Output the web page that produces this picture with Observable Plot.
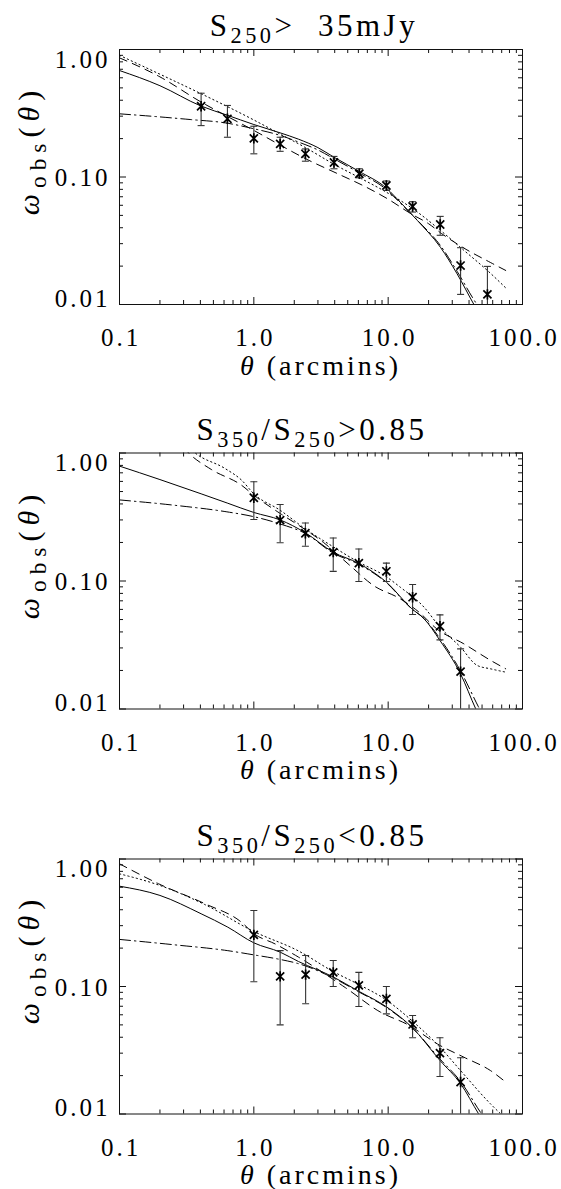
<!DOCTYPE html>
<html><head><meta charset="utf-8">
<script src="https://cdn.jsdelivr.net/npm/d3@7"></script>
<script src="https://cdn.jsdelivr.net/npm/@observablehq/plot@0.6"></script>
<style>
body{margin:0;background:#fff;}
#wrap{position:relative;width:561px;height:1189px;overflow:hidden;font-family:"Liberation Serif","Times New Roman",serif;color:#000;background:#fff}
#wrap svg{position:absolute;left:0}
#wrap svg text{font-family:"Liberation Serif","Times New Roman",serif}
.title{position:absolute;white-space:nowrap;transform:translate(-50%,-50%);font-size:31px;letter-spacing:3.5px;line-height:1}
.title sub{font-size:0.72em;vertical-align:-0.35em;line-height:0}
.xlab{position:absolute;white-space:nowrap;transform:translate(-50%,-50%);font-size:28px;letter-spacing:3px;line-height:1}
.ylab{position:absolute;white-space:nowrap;transform:translate(-50%,-50%) rotate(-90deg);font-size:30px;letter-spacing:6px;line-height:1}
.ylab sub{font-size:0.78em;vertical-align:-0.3em;line-height:0}
</style>
</head><body>
<div id="wrap"></div>
<script>
// ---------- axis ticks ----------
const xMajor = [0.1, 1, 10, 100];
const xMajorLabels = ["0.1", "1.0", "10.0", "100.0"];
const xMinor = [0.2,0.3,0.4,0.5,0.6,0.7,0.8,0.9, 2,3,4,5,6,7,8,9, 20,30,40,50,60,70,80,90];
const yMajor = [0.01, 0.1, 1];
const yMajorLabels = ["0.01", "0.10", "1.00"];
const yMinor = [0.02,0.03,0.04,0.05,0.06,0.07,0.08,0.09, 0.2,0.3,0.4,0.5,0.6,0.7,0.8,0.9];

// ---------- panel 1 : S250 > 35 mJy ----------
const p1Theta = [0.405, 0.636, 1.0, 1.57, 2.42, 3.95, 6.1, 9.7, 15.2, 24.4, 34.6, 54.8];
const p1W     = [0.359, 0.286, 0.201, 0.182, 0.152, 0.130, 0.106, 0.0858, 0.0587, 0.0424, 0.0202, 0.012];
const p1Lo    = [0.253, 0.205, 0.152, 0.159, 0.133, 0.116, 0.0986, 0.0785, 0.0531, 0.0349, 0.012, 0.005];
const p1Hi    = [0.454, 0.364, 0.250, 0.205, 0.166, 0.145, 0.116, 0.093, 0.064, 0.0491, 0.0279, 0.0199];
const p1Solid   = [[0.1,0.684],[0.2,0.52],[0.405,0.36],[0.636,0.305],[1.0,0.258],[1.57,0.222],[2.15,0.198],[3.0,0.17],[3.95,0.143],[6.05,0.111],[9.8,0.081],[12.3,0.0634],[16.5,0.0456],[24.5,0.0281],[32.6,0.0174],[43.5,0.01],[50,0.0078]];
const p1DashDot = [[0.1,0.313],[0.2,0.296],[0.34,0.282],[0.61,0.266],[1.0,0.239],[1.57,0.212],[2.15,0.188],[3.0,0.163],[3.95,0.139],[6.05,0.108],[9.8,0.079],[12.3,0.0625],[16.5,0.0458],[24.5,0.029],[32.6,0.0182],[45,0.0103],[50,0.0088]];
const p1Dashed  = [[0.1,0.86],[0.2,0.61],[0.4,0.39],[0.63,0.30],[1.0,0.232],[1.57,0.178],[2.4,0.14],[4.3,0.105],[6.6,0.085],[10,0.067],[15,0.051],[20,0.043],[25,0.036],[36,0.028],[58,0.0213],[75,0.0185]];
const p1Dotted  = [[0.1,0.90],[0.2,0.64],[0.405,0.45],[1.0,0.28],[1.6,0.215],[2.4,0.171],[4,0.125],[6.2,0.098],[9.7,0.076],[15.4,0.056],[24.6,0.038],[36,0.027],[58,0.0175],[75,0.0135]];

// ---------- panel 2 : S350/S250 > 0.85 ----------
const p2Theta = [1.0, 1.57, 2.42, 3.9, 6.05, 9.7, 15.2, 24.3, 34.6];
const p2W     = [0.447, 0.299, 0.236, 0.168, 0.138, 0.119, 0.0747, 0.0443, 0.0196];
const p2Lo    = [0.302, 0.199, 0.187, 0.119, 0.099, 0.099, 0.0547, 0.0347, 0.005];
const p2Hi    = [0.596, 0.396, 0.284, 0.217, 0.178, 0.138, 0.094, 0.0544, 0.0295];
const p2Solid   = [[0.1,0.79],[0.2,0.62],[0.405,0.48],[0.64,0.405],[1.0,0.343],[1.57,0.30],[2.42,0.238],[3.9,0.168],[6.05,0.137],[9.7,0.098],[15,0.0607],[18.5,0.0507],[24.3,0.0343],[34.6,0.0188],[44.9,0.01],[50,0.0079]];
const p2DashDot = [[0.1,0.43],[0.26,0.39],[0.63,0.347],[1.0,0.318],[1.57,0.279],[2.42,0.235],[3.9,0.165],[6.05,0.135],[9.7,0.097],[15,0.0605],[18.5,0.051],[24.3,0.0355],[34.6,0.0198],[47,0.0104],[52,0.0085]];
const p2Dashed  = [[0.3,1.1],[0.327,1.0],[0.486,0.74],[0.81,0.56],[1.0,0.468],[1.57,0.337],[2.15,0.273],[3.3,0.2],[5.2,0.132],[7.8,0.092],[12.3,0.0726],[17,0.057],[23,0.0423],[36.6,0.0323],[57.8,0.024],[75,0.0206]];
const p2Dotted  = [[0.33,1.1],[0.366,1.0],[0.61,0.757],[0.81,0.614],[1.0,0.48],[1.57,0.357],[2.42,0.255],[3.9,0.185],[5.7,0.145],[9.8,0.107],[12.3,0.0895],[18.5,0.0624],[24.3,0.0436],[34.6,0.0304],[46,0.0219],[57.8,0.0206],[75,0.0194]];

// ---------- panel 3 : S350/S250 < 0.85 ----------
const p3Theta = [1.0, 1.57, 2.43, 3.9, 6.05, 9.7, 15.2, 24.3, 34.6];
const p3W     = [0.254, 0.120, 0.124, 0.129, 0.102, 0.080, 0.0504, 0.030, 0.0178];
const p3Lo    = [0.109, 0.050, 0.0732, 0.100, 0.0697, 0.061, 0.0396, 0.0197, 0.005];
const p3Hi    = [0.394, 0.191, 0.175, 0.160, 0.129, 0.100, 0.0593, 0.0396, 0.0276];
const p3Solid   = [[0.1,0.612],[0.2,0.518],[0.405,0.372],[0.64,0.292],[1.0,0.22],[1.57,0.186],[2.15,0.157],[3.95,0.118],[5.9,0.093],[9.8,0.0688],[15,0.048],[24.3,0.0263],[34.6,0.0173],[47.2,0.01],[52,0.0085]];
const p3DashDot = [[0.1,0.234],[0.26,0.212],[0.64,0.191],[1.0,0.177],[1.57,0.163],[2.15,0.151],[3.95,0.116],[5.9,0.092],[9.8,0.068],[15,0.0478],[24.3,0.027],[34.6,0.018],[49,0.0102],[54,0.0088]];
const p3Dashed  = [[0.1,0.917],[0.195,0.64],[0.434,0.445],[0.81,0.319],[1.0,0.26],[1.45,0.215],[2.15,0.17],[4.82,0.0977],[8.75,0.063],[13.9,0.0504],[24.3,0.0345],[36.6,0.0279],[57.8,0.0219],[75,0.0178]];
const p3Dotted  = [[0.1,0.765],[0.2,0.62],[0.43,0.44],[1.0,0.27],[2.15,0.19],[3.95,0.13],[5.9,0.105],[9.8,0.0777],[15,0.054],[24.3,0.0334],[34.6,0.0219],[57.8,0.012],[75,0.0092]];

const titles = ["S<sub>250</sub>&gt;&nbsp; 35mJy", "S<sub>350</sub>/S<sub>250</sub>&gt;0.85", "S<sub>350</sub>/S<sub>250</sub>&lt;0.85"];
const yLabelHTML = "<i>ω</i><sub>obs</sub>(<i>θ</i>)";
const xLabelHTML = "<i>θ</i>&nbsp;(arcmins)";

// ---------- layout ----------
const W = 561, ML = 119, MR = 39;
const layout = [
  {top: 0,   height: 400, mt: 49,   mb: 96,   titleX: 314},
  {top: 400, height: 400, mt: 52.5, mb: 91.5, titleX: 312},
  {top: 800, height: 389, mt: 58.5, mb: 75.5, titleX: 312}
];
const panelData = [
  {theta: p1Theta, w: p1W, lo: p1Lo, hi: p1Hi, solid: p1Solid, dashdot: p1DashDot, dashed: p1Dashed, dotted: p1Dotted},
  {theta: p2Theta, w: p2W, lo: p2Lo, hi: p2Hi, solid: p2Solid, dashdot: p2DashDot, dashed: p2Dashed, dotted: p2Dotted},
  {theta: p3Theta, w: p3W, lo: p3Lo, hi: p3Hi, solid: p3Solid, dashdot: p3DashDot, dashed: p3Dashed, dotted: p3Dotted}
];

const star = {draw(ctx, size) {
  const r = Math.sqrt(size / Math.PI), d = r * 0.78;
  ctx.moveTo(0, -r); ctx.lineTo(0, r);
  ctx.moveTo(-d, -d); ctx.lineTo(d, d);
  ctx.moveTo(-d, d); ctx.lineTo(d, -d);
}};
const cap = {draw(ctx, size) {
  const r = Math.sqrt(size / Math.PI);
  ctx.moveTo(-r, 0); ctx.lineTo(r, 0);
}};

const wrap = document.getElementById("wrap");
const ink = "#111";
const majLen = 7, minLen = 4;
const tickFont = {fontSize: 25};

layout.forEach((L, i) => {
  const P = panelData[i];
  const pts = P.theta.map((t, k) => ({t, w: P.w[k], lo: P.lo[k], hi: P.hi[k]}));
  const fh = L.height - L.mt - L.mb;
  const fw = W - ML - MR;
  const xy = {x: d => d[0], y: d => d[1]};
  const lineOpts = {stroke: "#000", strokeWidth: 1, curve: "monotone-x", clip: true};
  const svg = Plot.plot({
    width: W, height: L.height,
    marginLeft: ML, marginRight: MR, marginTop: L.mt, marginBottom: L.mb,
    style: {fontSize: "25px", letterSpacing: "3px", background: "transparent", color: "#000", overflow: "visible"},
    x: {type: "log", domain: [0.1, 100], axis: null},
    y: {type: "log", domain: [0.01, 1], axis: null},
    marks: [
      // model curves
      Plot.line(P.solid, {...xy, ...lineOpts}),
      Plot.line(P.dashdot, {...xy, ...lineOpts, strokeDasharray: "11,4,1.5,4"}),
      Plot.line(P.dashed, {...xy, ...lineOpts, strokeDasharray: "8,6"}),
      Plot.line(P.dotted, {...xy, ...lineOpts, strokeDasharray: "1.3,3"}),
      // error bars
      Plot.ruleX(pts, {x: "t", y1: "lo", y2: "hi", stroke: "#333", strokeWidth: 1.1, clip: true}),
      Plot.dot(pts, {x: "t", y: "hi", symbol: cap, r: 3.5, stroke: "#333", fill: "none", strokeWidth: 1.1, clip: true}),
      Plot.dot(pts, {x: "t", y: "lo", symbol: cap, r: 3.5, stroke: "#333", fill: "none", strokeWidth: 1.1, clip: true}),
      // data points
      Plot.dot(pts, {x: "t", y: "w", symbol: star, r: 5.2, stroke: "#000", fill: "none", strokeWidth: 1.7}),
      // frame and inward ticks
      Plot.frame({stroke: ink, strokeWidth: 1}),
      Plot.ruleX(xMajor, {insetTop: fh - majLen, stroke: ink}),
      Plot.ruleX(xMajor, {insetBottom: fh - majLen, stroke: ink}),
      Plot.ruleX(xMinor, {insetTop: fh - minLen, stroke: ink}),
      Plot.ruleX(xMinor, {insetBottom: fh - minLen, stroke: ink}),
      Plot.ruleY(yMajor, {insetRight: fw - majLen, stroke: ink}),
      Plot.ruleY(yMajor, {insetLeft: fw - majLen, stroke: ink}),
      Plot.ruleY(yMinor, {insetRight: fw - minLen, stroke: ink}),
      Plot.ruleY(yMinor, {insetLeft: fw - minLen, stroke: ink}),
      // tick labels
      Plot.axisX(xMajor, {anchor: "bottom", tickSize: 0, tickPadding: 24, label: null, ...tickFont, dx: 1.5,
        tickFormat: d => xMajorLabels[xMajor.indexOf(d)]}),
      Plot.axisY([yMajor[2]], {anchor: "left", tickSize: 0, tickPadding: 9, label: null, ...tickFont, dy: 10,
        tickFormat: () => yMajorLabels[2]}),
      Plot.axisY([yMajor[1]], {anchor: "left", tickSize: 0, tickPadding: 9, label: null, ...tickFont, dy: 1,
        tickFormat: () => yMajorLabels[1]}),
      Plot.axisY([yMajor[0]], {anchor: "left", tickSize: 0, tickPadding: 9, label: null, ...tickFont, dy: -6,
        tickFormat: () => yMajorLabels[0]})
    ]
  });
  svg.style.top = L.top + "px";
  wrap.appendChild(svg);

  const frameTop = L.top + L.mt, frameBot = L.top + L.height - L.mb;
  const t = document.createElement("div");
  t.className = "title"; t.innerHTML = titles[i];
  t.style.left = L.titleX + "px"; t.style.top = (frameTop - 24) + "px";
  wrap.appendChild(t);

  const xl = document.createElement("div");
  xl.className = "xlab"; xl.innerHTML = xLabelHTML;
  xl.style.left = (ML + fw / 2) + "px"; xl.style.top = (frameBot + 61.5) + "px";
  wrap.appendChild(xl);

  const yl = document.createElement("div");
  yl.className = "ylab"; yl.innerHTML = yLabelHTML;
  yl.style.left = "29px"; yl.style.top = ((frameTop + frameBot) / 2 - 27) + "px";
  wrap.appendChild(yl);
});
</script>
</body></html>
